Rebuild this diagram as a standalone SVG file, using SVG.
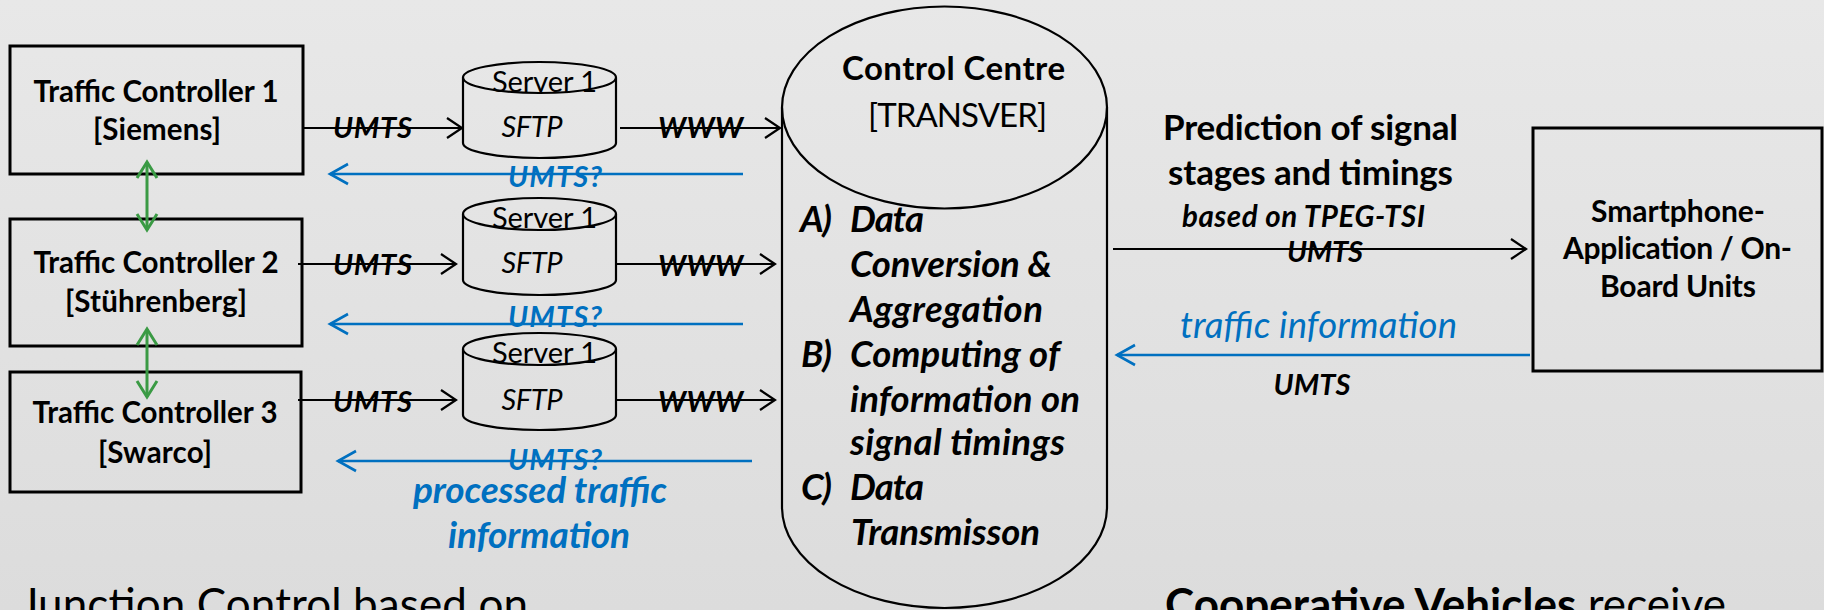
<svg xmlns="http://www.w3.org/2000/svg" width="1824" height="610" viewBox="0 0 1824 610">
<defs>
<linearGradient id="bg" x1="0" y1="0" x2="0" y2="1">
<stop offset="0" stop-color="#e8e8e8"/>
<stop offset="1" stop-color="#dcdcdc"/>
</linearGradient>
<marker id="ab" markerUnits="userSpaceOnUse" markerWidth="22" markerHeight="26" refX="17" refY="12" orient="auto">
<path d="M2,2 L17,12 L2,22" fill="none" stroke="#000" stroke-width="2.2"/>
</marker>
<marker id="au" markerUnits="userSpaceOnUse" markerWidth="24" markerHeight="26" refX="20" refY="12" orient="auto">
<path d="M2,2 L20,12 L2,22" fill="none" stroke="#0070c0" stroke-width="2.6"/>
</marker>
<marker id="ag" markerUnits="userSpaceOnUse" markerWidth="22" markerHeight="26" refX="18" refY="12" orient="auto-start-reverse">
<path d="M2,2 L18,12 L2,22" fill="none" stroke="#3a9a44" stroke-width="3"/>
</marker>
<style>
text{font-family:Lato,"Open Sans","Liberation Sans",sans-serif;fill:#000}
.box{fill:none;stroke:#000;stroke-width:3}
.cyl{fill:none;stroke:#000;stroke-width:2.2}
.b{font-weight:bold}
.i{font-style:italic}
.m{text-anchor:middle}
.blue{fill:#0070c0}
.lk{fill:none;stroke:#000;stroke-width:2.2;marker-end:url(#ab)}
.lu{fill:none;stroke:#0070c0;stroke-width:2.6;marker-end:url(#au)}
.lg{fill:none;stroke:#3a9a44;stroke-width:3;marker-start:url(#ag);marker-end:url(#ag)}
.tc{font-size:29.5px}
.lbl{font-size:29px}
.sv{font-size:29px}
.cc{font-size:33px}
.li{font-size:36.5px}
.pr{font-size:35px}
.sp{font-size:30px}
.big{font-size:44px}
</style>
</defs>
<rect width="1824" height="610" fill="url(#bg)"/>

<g id="tc1">
<rect class="box" x="10" y="46" width="293" height="128"/>
<text class="b m tc" x="156" y="102" textLength="245">Traffic Controller 1</text>
<text class="b m tc" x="157" y="140" textLength="128">[Siemens]</text>
</g>
<g id="tc2">
<rect class="box" x="10" y="219" width="292" height="127"/>
<text class="b m tc" x="156" y="273" textLength="245">Traffic Controller 2</text>
<text class="b m tc" x="156" y="312" textLength="182">[Stührenberg]</text>
</g>
<g id="tc3">
<rect class="box" x="10" y="372" width="291" height="120"/>
<text class="b m tc" x="155" y="423" textLength="245">Traffic Controller 3</text>
<text class="b m tc" x="155" y="463" textLength="114">[Swarco]</text>
</g>

<g id="server1">
<path class="cyl" d="M463,77.5 L463,143 A76.5,15 0 0 0 616,143 L616,77.5"/>
<ellipse class="cyl" cx="539.5" cy="77.5" rx="76.5" ry="15.5"/>
<text class="m sv" x="544.5" y="92" textLength="105">Server 1</text>
<text class="i m sv" x="532" y="137" textLength="61">SFTP</text>
</g>
<g id="server2">
<path class="cyl" d="M463,214 L463,280 A76.5,15 0 0 0 616,280 L616,214"/>
<ellipse class="cyl" cx="539.5" cy="214" rx="76.5" ry="16"/>
<text class="m sv" x="544.5" y="228" textLength="105">Server 1</text>
<text class="i m sv" x="532" y="273" textLength="61">SFTP</text>
</g>
<g id="server3">
<path class="cyl" d="M463,349 L463,415 A76.5,15 0 0 0 616,415 L616,349"/>
<ellipse class="cyl" cx="539.5" cy="349" rx="76.5" ry="16"/>
<text class="m sv" x="544.5" y="363" textLength="105">Server 1</text>
<text class="i m sv" x="532" y="410" textLength="61">SFTP</text>
</g>

<g id="control-centre">
<path class="cyl" d="M782,107.5 L782,507 A162.5,101 0 0 0 1107,507 L1107,107.5"/>
<ellipse class="cyl" cx="944.5" cy="107.5" rx="162.5" ry="101"/>
<text class="b m cc" x="953.5" y="80" textLength="223">Control Centre</text>
<text class="m cc" x="957.5" y="127" textLength="179">[TRANSVER]</text>
<g class="b i li">
<text x="800" y="232" textLength="32">A)</text><text x="850" y="232" textLength="74">Data</text>
<text x="850" y="277" textLength="202">Conversion &amp;</text>
<text x="850" y="322" textLength="193">Aggregation</text>
<text x="801" y="367" textLength="31">B)</text><text x="850" y="367" textLength="210">Computing of</text>
<text x="850" y="412" textLength="230">information on</text>
<text x="850" y="455" textLength="215">signal timings</text>
<text x="801" y="500" textLength="31">C)</text><text x="850" y="500" textLength="74">Data</text>
<text x="851" y="545" textLength="189">Transmisson</text>
</g>
</g>

<g id="smartphone">
<rect class="box" x="1533" y="128" width="289" height="243"/>
<text class="b m sp" x="1678" y="222" textLength="174">Smartphone-</text>
<text class="b m sp" x="1677.5" y="259" textLength="229">Application / On-</text>
<text class="b m sp" x="1678" y="297" textLength="156">Board Units</text>
</g>

<g id="connectors">
<path class="lg" d="M147,162 L147,230"/>
<path class="lg" d="M147,329 L147,397"/>

<path class="lk" d="M303,128 L462,128"/>
<path class="lk" d="M298,264 L456,264"/>
<path class="lk" d="M298,400 L456,400"/>
<path class="lk" d="M620,128 L780,128"/>
<path class="lk" d="M616,264 L775,264"/>
<path class="lk" d="M616,400 L775,400"/>
<path class="lu" d="M743,174 L330,174"/>
<path class="lu" d="M743,324 L330,324"/>
<path class="lu" d="M752,461 L338,461"/>
<path class="lk" d="M1113,249 L1526,249"/>
<path class="lu" d="M1530,355 L1117,355"/>

<g class="b i m lbl">
<text x="372.5" y="138" textLength="79">UMTS</text>
<text x="372.5" y="275" textLength="79">UMTS</text>
<text x="372.5" y="412" textLength="79">UMTS</text>
<text x="700.5" y="138" textLength="85">WWW</text>
<text x="700.5" y="276" textLength="85">WWW</text>
<text x="700.5" y="412" textLength="85">WWW</text>
<text class="blue" x="555" y="187" textLength="94">UMTS?</text>
<text class="blue" x="555" y="327" textLength="94">UMTS?</text>
<text class="blue" x="555" y="470" textLength="94">UMTS?</text>
<text x="1325" y="262" textLength="76">UMTS</text>
<text x="1312" y="395" textLength="77">UMTS</text>
</g>
<text class="b i m blue" style="font-size:37px" x="540" y="503" textLength="254">processed traffic</text>
<text class="b i m blue" style="font-size:37px" x="539" y="548" textLength="182">information</text>
<text class="b m pr" x="1310.5" y="140" textLength="295">Prediction of signal</text>
<text class="b m pr" x="1310.5" y="185" textLength="285">stages and timings</text>
<text class="b i m" style="font-size:29.5px" x="1303.5" y="227" textLength="243">based on TPEG-TSI</text>
<text class="i m blue" style="font-size:36.5px" x="1318.5" y="338" textLength="277">traffic information</text>
</g>

<text class="big" x="20" y="620" textLength="508">Junction Control based on</text>
<text class="big" x="1165" y="620" textLength="561"><tspan font-weight="bold">Cooperative Vehicles</tspan> receive</text>
</svg>
